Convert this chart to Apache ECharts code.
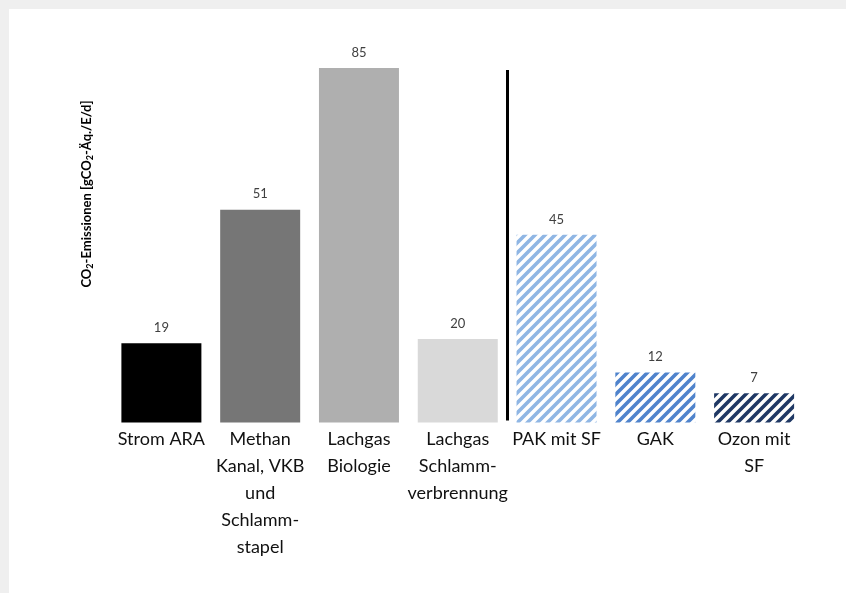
<!DOCTYPE html>
<html>
<head>
<meta charset="utf-8">
<script src="https://cdn.jsdelivr.net/npm/echarts@6/dist/echarts.min.js"></script>
<style>
  html, body { margin: 0; padding: 0; background: #efefef; }
  #frame { position: absolute; left: 9px; top: 9px; right: 0; bottom: 0; background: #ffffff; }
  #chart { position: absolute; left: 0; top: 0; width: 846px; height: 593px; }
</style>
</head>
<body>
<div id="frame"></div>
<div id="chart"></div>
<script>
// Emission sources and their CO2-equivalent per inhabitant and day
const categories = [
  'Strom ARA',
  'Methan\nKanal, VKB\nund\nSchlamm-\nstapel',
  'Lachgas\nBiologie',
  'Lachgas\nSchlamm-\nverbrennung',
  'PAK mit SF',
  'GAK',
  'Ozon mit\nSF'
];
const emissions = [19, 51, 85, 20, 45, 12, 7];
// Divider between the existing plant and the treatment options (category slot units)
const dividerAt = [3.5];

// Solid fills for the existing plant, stripe colours for the treatment options
const solidColors = ['#000000', '#767676', '#afafaf', '#d9d9d9'];
const stripeColors = ['#8fb6e4', '#4f83cc', '#1f3864'];

function stripePattern(color) {
  const s = 10;
  const c = document.createElement('canvas');
  c.width = s; c.height = s;
  const g = c.getContext('2d');
  g.strokeStyle = color;
  g.lineWidth = 3.6;
  g.lineCap = 'square';
  g.beginPath();
  g.moveTo(0, s); g.lineTo(s, 0);
  g.moveTo(-s / 2, s / 2); g.lineTo(s / 2, -s / 2);
  g.moveTo(s / 2, s * 1.5); g.lineTo(s * 1.5, s / 2);
  g.stroke();
  return { image: c, repeat: 'repeat' };
}

const fills = solidColors.concat(stripeColors.map(stripePattern));

const chart = echarts.init(document.getElementById('chart'), null, { renderer: 'canvas' });

chart.setOption({
  backgroundColor: 'transparent',
  animation: false,
  grid: { left: 112, right: 42.5, top: 68, bottom: 170.5 },
  xAxis: [{
    type: 'category',
    data: categories,
    axisLine: { show: false },
    axisTick: { show: false },
    splitLine: { show: false },
    axisLabel: {
      interval: 0,
      margin: 3,
      color: '#111111',
      fontFamily: 'Lato',
      fontSize: 18,
      lineHeight: 27,
      align: 'center'
    }
  }, {
    // hidden linear axis spanning the same slots, used to place the divider
    type: 'value',
    min: -0.5,
    max: categories.length - 0.5,
    show: false
  }],
  yAxis: {
    type: 'value',
    min: 0,
    max: 85,
    show: false
  },
  graphic: [{
    type: 'text',
    x: 87,
    y: 194,
    rotation: Math.PI / 2,
    style: {
      text: '{m|CO}{s|2}{m|-Emissionen [gCO}{s|2}{m|-Äq./E/d]}',
      align: 'center',
      verticalAlign: 'middle',
      rich: {
        m: { fontFamily: 'Lato', fontWeight: 'bold', fontSize: 13, lineHeight: 15, fill: '#000', verticalAlign: 'middle' },
        s: { fontFamily: 'Lato', fontWeight: 'bold', fontSize: 9, lineHeight: 15, fill: '#000', padding: [6, 0, 0, 0] }
      }
    }
  }],
  series: [{
    type: 'bar',
    barWidth: 80,
    data: emissions.map((v, i) => ({ value: v, itemStyle: { color: fills[i] } })),
    label: {
      show: true,
      position: 'top',
      distance: 9,
      color: '#404040',
      fontFamily: 'Lato',
      fontSize: 13
    }
  }, {
    type: 'line',
    xAxisIndex: 1,
    data: [],
    silent: true,
    markLine: {
      symbol: 'none',
      silent: true,
      label: { show: false },
      lineStyle: { color: '#000000', width: 3, type: 'solid' },
      data: dividerAt.map(x => [{ coord: [x, 0.5] }, { coord: [x, 84.5] }])
    }
  }]
});
</script>
</body>
</html>
